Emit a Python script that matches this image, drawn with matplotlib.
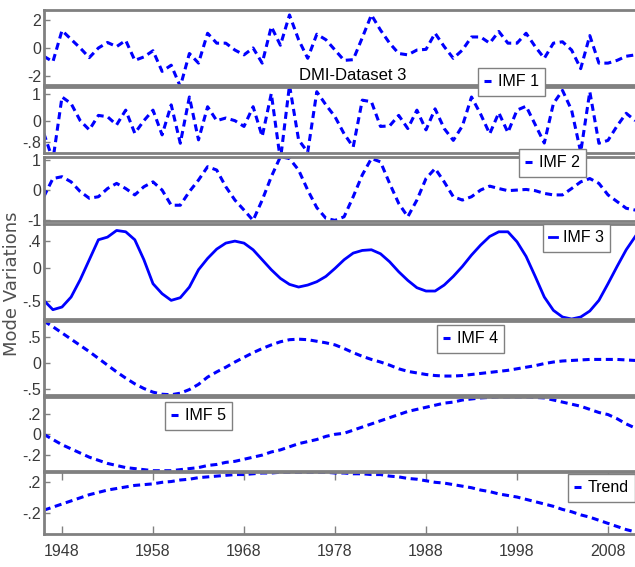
import numpy as np
import matplotlib
matplotlib.use("Agg")
import matplotlib.pyplot as plt

plt.rcParams['font.family'] = ['Liberation Sans', 'DejaVu Sans']

years = np.arange(1946, 2012)

imf1 = [-0.6, -1.0, 1.27, 0.63, 0.0, -0.7, 0.0, 0.4, 0.1, 0.55,
        -0.9, -0.65, -0.2, -1.7, -1.25, -2.8, -0.4, -1.1, 1.07, 0.35,
        0.35, -0.15, -0.5, 0.0, -1.1, 1.55, 0.2, 2.4, 0.6, -0.75,
        1.0, 0.6, -0.15, -0.9, -0.85, 0.75, 2.4, 1.3, 0.35, -0.4,
        -0.5, -0.15, -0.1, 1.07, 0.1, -0.75, -0.15, 0.8, 0.8, 0.35,
        1.2, 0.35, 0.35, 1.07, 0.1, -0.75, 0.35, 0.45, -0.15, -1.5,
        0.9, -1.1, -1.1, -0.9, -0.6, -0.5]
imf2 = [-0.48, -1.5, 0.9, 0.65, 0.0, -0.35, 0.2, 0.15, -0.16, 0.4,
        -0.48, 0.0, 0.4, -0.54, 0.6, -0.86, 0.9, -0.73, 0.53, 0.0,
        0.1, 0.0, -0.22, 0.53, -0.6, 1.03, -1.5, 1.35, -0.73, -1.2,
        1.1, 0.6, 0.15, -0.5, -1.0, 0.78, 0.72, -0.22, -0.2, 0.2,
        -0.3, 0.4, -0.35, 0.45, -0.3, -0.75, -0.2, 0.9, 0.25, -0.5,
        0.3, -0.45, 0.4, 0.55, -0.15, -0.85, 0.65, 1.15, 0.4, -1.2,
        1.1, -0.86, -0.75, -0.2, 0.28, 0.0]
imf3 = [-0.22, 0.38, 0.44, 0.27, -0.05, -0.27, -0.22, 0.05, 0.22, 0.05,
        -0.16, 0.11, 0.27, 0.0, -0.5, -0.5, -0.05, 0.33, 0.77, 0.66,
        0.11, -0.33, -0.66, -1.0, -0.33, 0.44, 1.1, 1.04, 0.66, 0.0,
        -0.58, -0.93, -1.0, -0.88, -0.22, 0.5, 1.04, 0.93, 0.22, -0.44,
        -0.88, -0.33, 0.38, 0.71, 0.27, -0.22, -0.33, -0.22, 0.0, 0.13,
        0.05, -0.02, 0.0, 0.02, -0.02, -0.11, -0.16, -0.16, 0.05, 0.27,
        0.38, 0.22, -0.16, -0.38, -0.6, -0.66]
imf4 = [-0.49, -0.63, -0.59, -0.44, -0.18, 0.12, 0.42, 0.46, 0.56, 0.54,
        0.42, 0.12, -0.24, -0.39, -0.49, -0.45, -0.29, -0.03, 0.14, 0.28,
        0.37, 0.40, 0.37, 0.27, 0.12, -0.03, -0.16, -0.25, -0.29, -0.26,
        -0.21, -0.13, -0.01, 0.12, 0.22, 0.26, 0.27, 0.21, 0.09, -0.06,
        -0.19, -0.3, -0.35, -0.35, -0.26, -0.13, 0.02, 0.19, 0.34, 0.47,
        0.54, 0.54, 0.39, 0.17, -0.13, -0.44, -0.64, -0.74, -0.77, -0.74,
        -0.65, -0.49, -0.24, 0.02, 0.27, 0.47]
imf5 = [0.81, 0.7, 0.58, 0.46, 0.34, 0.22, 0.09, -0.04, -0.17, -0.29,
        -0.4, -0.49, -0.56, -0.6, -0.61, -0.58, -0.51, -0.41, -0.27, -0.17,
        -0.08, 0.02, 0.11, 0.2, 0.28, 0.35, 0.41, 0.45, 0.46, 0.45,
        0.42, 0.39, 0.35, 0.28, 0.2, 0.13, 0.07, 0.02, -0.04, -0.11,
        -0.16, -0.19, -0.22, -0.24, -0.25, -0.25, -0.24, -0.22, -0.2, -0.18,
        -0.16, -0.14, -0.11, -0.08, -0.05, -0.01, 0.02, 0.04, 0.05, 0.06,
        0.07, 0.07, 0.07, 0.07, 0.06, 0.05]
imf6 = [0.0, -0.05, -0.1, -0.14, -0.18, -0.22, -0.25, -0.28, -0.3, -0.32,
        -0.33, -0.34, -0.35, -0.35, -0.35, -0.34, -0.33, -0.32, -0.3, -0.29,
        -0.27, -0.26, -0.24, -0.22, -0.2, -0.17, -0.15, -0.12, -0.09, -0.07,
        -0.05, -0.02, 0.0, 0.01, 0.04, 0.07, 0.1, 0.13, 0.16, 0.19,
        0.22, 0.24, 0.26, 0.28, 0.3, 0.31, 0.33, 0.34, 0.35, 0.355,
        0.36, 0.36, 0.36, 0.36, 0.355, 0.35, 0.33, 0.31, 0.29, 0.27,
        0.24, 0.21, 0.19, 0.15, 0.1, 0.06]
trend = [-0.16, -0.12, -0.08, -0.04, 0.0, 0.04, 0.07, 0.1, 0.12, 0.14,
         0.16, 0.17, 0.18, 0.2, 0.21, 0.23, 0.24, 0.26, 0.27, 0.28,
         0.29, 0.3, 0.3, 0.31, 0.32, 0.32, 0.33, 0.33, 0.33, 0.33,
         0.33, 0.33, 0.32, 0.32, 0.31, 0.31, 0.3, 0.3, 0.28, 0.27,
         0.25, 0.24, 0.22, 0.2, 0.19, 0.17, 0.15, 0.13, 0.1, 0.08,
         0.05, 0.03, 0.01, -0.02, -0.05, -0.08, -0.11, -0.15, -0.18, -0.22,
         -0.25, -0.29, -0.33, -0.37, -0.41, -0.44]

series = [imf1, imf2, imf3, imf4, imf5, imf6, trend]
names = ['IMF 1', 'IMF 2', 'IMF 3', 'IMF 4', 'IMF 5', 'Trend']
ylims = [(-2.69, 2.76), (-1.23, 1.28), (-1.02, 1.09), (-0.77, 0.657),
         (-0.615, 0.81), (-0.353, 0.359), (-0.467, 0.333)]
yticks = [[-2, 0, 2], [-0.8, 0, 1], [-1, 0, 1], [-0.5, 0, 0.4],
          [-0.5, 0, 0.5], [-0.2, 0, 0.2], [-0.2, 0.2]]
yticklabels = [['-2', '0', '2'], ['-.8', '0', '1'], ['-1', '0', '1'],
               ['-.5', '0', '.4'], ['-.5', '0', '.5'], ['-.2', '0', '.2'],
               ['-.2', '.2']]
xtick_years = [1948, 1958, 1968, 1978, 1988, 1998, 2008]

# panel extents in pixels (top, bottom) of a 635x567 image
W, H = 635, 567
panels = [(10, 85), (87, 153), (157, 221), (224, 319), (321, 395),
          (397, 471), (472, 534)]
# legend box top-left corners in pixels
legend_pos = [(478, 68), (519, 149), (543, 224), (437, 325), (165, 402),
              (568, 474)]

fig = plt.figure(figsize=(6.35, 5.67), dpi=100)
left = 43.8 / W
width = 66 * 9.1 / W
gray = '#808080'

axes = []
for i, (top, bot) in enumerate(panels):
    ax = fig.add_axes([left, 1 - bot / H, width, (bot - top) / H])
    if i == 3:
        line, = ax.plot(years, series[i], color='#0000ff', lw=2.0)
    else:
        line, = ax.plot(years, series[i], color='#0000ff', lw=2.2,
                        linestyle=(0, (2.3, 1.5)))
    ax.set_xlim(1946, 2012)
    ax.set_ylim(*ylims[i])
    ax.set_yticks(yticks[i])
    ax.set_yticklabels(yticklabels[i])
    for s in ax.spines.values():
        s.set_color(gray)
        s.set_linewidth(2)
    ax.tick_params(axis='both', direction='in', length=4, width=1,
                   color=gray, labelcolor='#3a3a3a', labelsize=11.5, pad=2)
    if i == 6:
        ax.set_xticks(xtick_years)
        ax.set_xticklabels([str(y) for y in xtick_years])
        ax.tick_params(axis='x', top=True, length=6, pad=7, labelsize=11.5)
    else:
        ax.set_xticks([])
    axes.append((ax, line))

# one legend per component, drawn on top of all panels
for (ax, line), name, (lx, ly) in zip(axes[1:], names, legend_pos):
    fig.legend([line], [name], loc='upper left',
               bbox_to_anchor=(lx / W, 1 - ly / H), borderaxespad=0,
               fancybox=False, framealpha=1, edgecolor=gray,
               fontsize=11.5, handlelength=0.45, handletextpad=0.4,
               borderpad=0.4)

fig.text(353 / W, 1 - 76 / H, 'DMI-Dataset 3', ha='center', va='center',
         fontsize=12, color='black')
fig.text(0.019, 0.5, 'Mode Variations', rotation=90, ha='center',
         va='center', fontsize=13, color='#505050',
         family=['DejaVu Sans'])

fig.savefig('out.png', dpi=100)
